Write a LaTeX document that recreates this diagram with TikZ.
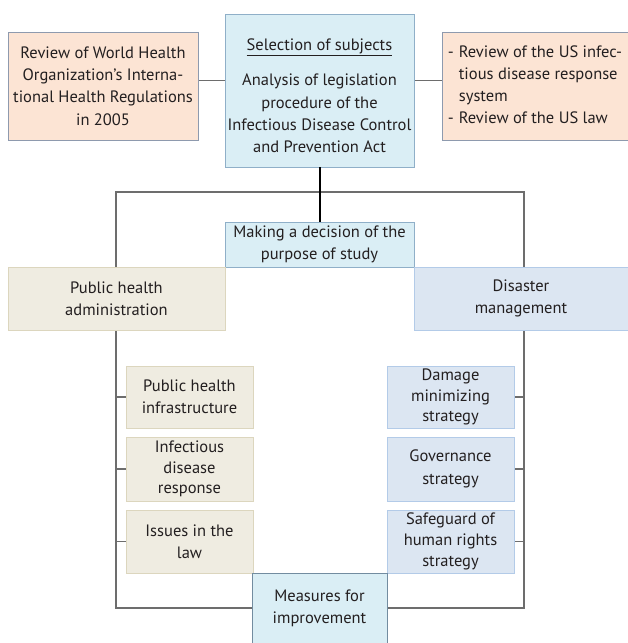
\documentclass[tikz,border=0pt]{standalone}
\usepackage{fontspec}
\setmainfont{PT Sans}
\usetikzlibrary{backgrounds}
\definecolor{peachfill}{HTML}{FCE4D4}
\definecolor{peachline}{HTML}{8E9AAE}
\definecolor{lbfill}{HTML}{DAEEF5}
\definecolor{lbline}{HTML}{8FAFC8}
\definecolor{beigefill}{HTML}{EFECE1}
\definecolor{beigeline}{HTML}{DCD6BE}
\definecolor{bluefill}{HTML}{DCE6F2}
\definecolor{blueline}{HTML}{B3CBE8}
\definecolor{txt}{HTML}{231F20}
\definecolor{frameline}{HTML}{6D6D6D}
\tikzset{
  base/.style={draw, line width=0.9pt, inner sep=0pt, align=center, text=txt,
    font=\fontsize{16.5}{22.3}\selectfont},
  peachbox/.style={base, fill=peachfill, draw=peachline},
  lbbox/.style={base, fill=lbfill, draw=lbline},
  beigebox/.style={base, fill=beigefill, draw=beigeline},
  bluebox/.style={base, fill=bluefill, draw=blueline},
  subbeige/.style={beigebox, minimum width=127pt},
  subblue/.style={bluebox, minimum width=127pt},
  threeline/.style={font=\fontsize{16.5}{20.8}\selectfont},
  frame/.style={draw=frameline, line width=1.2pt},
  thin/.style={draw=frameline, line width=1pt},
}
\begin{document}
\begin{tikzpicture}[x=1pt, y=-1pt]
\useasboundingbox (0,0) rectangle (628,643);
% top row
\node[peachbox, minimum width=190pt, minimum height=108pt] (who) at (103,86)
  {Review of World Health\\Organization's Interna-\\tional Health Regulations\\in 2005};
\node[lbbox, minimum width=189pt, minimum height=153pt] (sel) at (319.5,90.5)
  {\rule{0pt}{22pt}\underline{Selection of subjects}\\[13.5pt]Analysis of legislation\\procedure of the\\Infectious Disease Control\\and Prevention Act};
\node[peachbox, minimum width=186pt, minimum height=108pt] (us) at (535,86)
  {\begin{tabular}{@{}l@{\hspace{5pt}}l@{}}-&Review of the US infec-\\&tious disease response\\&system\\-&Review of the US law\end{tabular}};
% middle
\node[lbbox, minimum width=189pt, minimum height=45pt] (dec) at (319.5,244.5)
  {Making a decision of the\\purpose of study};
\node[beigebox, minimum width=217pt, minimum height=63pt] (pha) at (116.5,298.5)
  {Public health\\administration};
\node[bluebox, minimum width=214pt, minimum height=63pt] (dis) at (521,298.5)
  {Disaster\\management};
% sub boxes
\node[subbeige, minimum height=62pt] (l1) at (189.5,397) {Public health\\infrastructure};
\node[subbeige, threeline, minimum height=64pt] (l2) at (189.5,469) {Infectious\\disease\\response};
\node[subbeige, minimum height=63pt] (l3) at (189.5,541.5) {Issues in the\\law};
\node[subblue, threeline, minimum height=62pt] (r1) at (450.5,397) {Damage\\minimizing\\strategy};
\node[subblue, minimum height=64pt] (r2) at (450.5,469) {Governance\\strategy};
\node[subblue, threeline, minimum height=63pt] (r3) at (450.5,541.5) {Safeguard of\\human rights\\strategy};
\node[lbbox, draw=lbline!80!black, minimum width=135pt, minimum height=70pt] (meas) at (319.5,608)
  {Measures for\\improvement};
% connectors
\coordinate (lc) at (0,80);
\coordinate (tl) at (116,192);
\coordinate (tr) at (524,192);
\coordinate (bl) at (116,608);
\coordinate (br) at (524,608);
\begin{scope}[on background layer]
  \draw[frame] (meas.west |- bl) -- (bl) -- (tl) -- (tr) -- (br) -- (meas.east |- br);
  \draw[thin] (who.east |- lc) -- (sel.west |- lc);
  \draw[thin] (sel.east |- lc) -- (us.west |- lc);
  \foreach \n in {l1,l2,l3} \draw[frame] (\n.west) -- (\n.west -| tl);
  \foreach \n in {r1,r2,r3} \draw[frame] (\n.east) -- (\n.east -| tr);
\end{scope}
\draw[line width=2pt, black] (sel.south) -- (dec.north);
\end{tikzpicture}
\end{document}
